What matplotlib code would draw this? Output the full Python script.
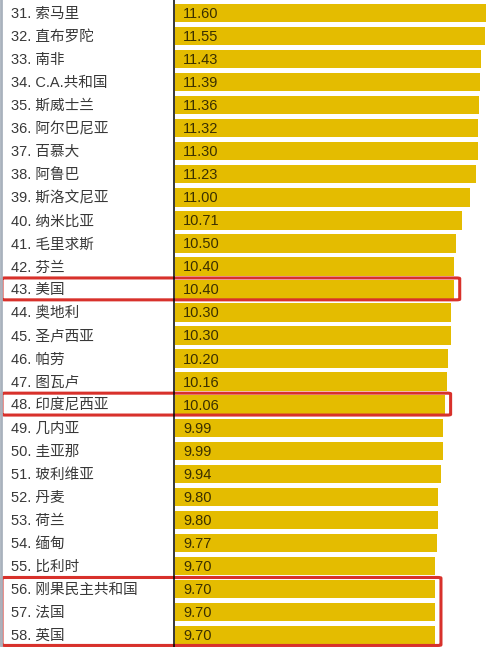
import matplotlib.pyplot as plt
import matplotlib.transforms as mtransforms
from matplotlib.patches import FancyBboxPatch

plt.rcParams['font.family'] = ['Liberation Sans', 'Noto Sans CJK SC', 'DejaVu Sans']

# ranks, countries and values as shown in the picture
ranks = list(range(31, 59))
countries = ["索马里", "直布罗陀", "南非", "C.A.共和国", "斯威士兰", "阿尔巴尼亚", "百慕大",
             "阿鲁巴", "斯洛文尼亚", "纳米比亚", "毛里求斯", "芬兰", "美国", "奥地利",
             "圣卢西亚", "帕劳", "图瓦卢", "印度尼西亚", "几内亚", "圭亚那", "玻利维亚",
             "丹麦", "荷兰", "缅甸", "比利时", "刚果民主共和国", "法国", "英国"]
values = [11.60, 11.55, 11.43, 11.39, 11.36, 11.32, 11.30, 11.23, 11.00, 10.71,
          10.50, 10.40, 10.40, 10.30, 10.30, 10.20, 10.16, 10.06, 9.99, 9.99,
          9.94, 9.80, 9.80, 9.77, 9.70, 9.70, 9.70, 9.70]
# highlighted groups (first rank, last rank)
highlights = [(43, 43), (48, 48), (56, 58)]

W, H = 495, 647
fig = plt.figure(figsize=(W / 100, H / 100), dpi=100)
fig.patch.set_facecolor("white")

x0 = 175  # px where bars start
ppu = 26.8  # px per value unit
ax = fig.add_axes([x0 / W, 0, (W - x0) / W, 1])
ax.set_xlim(0, (W - x0) / ppu)
n = len(values)
pitch = 23.04
ax.set_ylim((H - 13) / pitch, -13 / pitch)
ax.axis("off")

ypos = list(range(n))
ax.barh(ypos, values, height=0.8, color="#e4bc00", left=0)

for i, v in enumerate(values):
    ax.text(0.3, i + 0.04, "%.2f" % v, va="center", ha="left", fontsize=10.5, color="#3b3000")

# left column labels
lab = mtransforms.blended_transform_factory(fig.transFigure, ax.transData)
for i, (r, c) in enumerate(zip(ranks, countries)):
    ax.text(11 / W, i + 0.04, "%d. %s" % (r, c), transform=lab, va="center", ha="left",
            fontsize=10.5, color="#383838")

# separator and left border
fig.add_artist(plt.Line2D([174 / W, 174 / W], [0, 1], color="black", lw=1.1))
fig.add_artist(plt.Line2D([1 / W, 1 / W], [0, 1], color="#a9b2bd", lw=2))

# red highlight boxes
for a, b in highlights:
    i0 = ranks.index(a)
    i1 = ranks.index(b)
    vmax = max(values[i0:i1 + 1])
    x_left = -(x0 - 2) / ppu
    x_right = vmax + 6 / ppu
    box = FancyBboxPatch((x_left, i0 - 0.5), x_right - x_left, i1 - i0 + 0.95,
                         boxstyle="round,pad=0,rounding_size=0.12",
                         fill=False, edgecolor="#d8312b", lw=2.2, clip_on=False,
                         mutation_aspect=1 / 4)
    ax.add_patch(box)

fig.savefig("out.png", dpi=100, facecolor="white")
